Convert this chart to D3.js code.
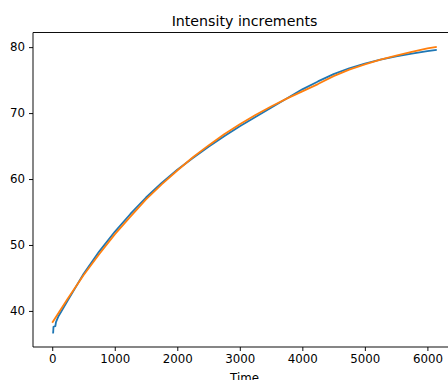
<!DOCTYPE html>
<html>
<head>
<meta charset="utf-8">
<script src="https://cdn.jsdelivr.net/npm/d3@7"></script>
<style>
  body { margin: 0; background: #fff; }
  svg { display: block; font-family: "DejaVu Sans", sans-serif; }
</style>
</head>
<body>
<div id="chart"></div>
<script>
// values
const measuredTime = [0, 15, 20, 50, 60, 100, 250, 500, 750, 1000, 1250, 1500, 1750, 2000, 2250, 2500,
  2750, 3000, 3250, 3500, 3750, 4000, 4250, 4500, 4750, 5000, 5250, 5500, 5750, 6000, 6150];
const measuredIntensity = [36.7, 36.7, 37.6, 37.7, 38.3, 39.2, 41.6, 45.6, 49.0, 52.0, 54.7, 57.2, 59.4, 61.4, 63.2, 64.9,
  66.5, 68.0, 69.4, 70.8, 72.2, 73.6, 74.8, 75.9, 76.8, 77.5, 78.1, 78.6, 79.0, 79.4, 79.6];

const fitTime = [0, 250, 500, 750, 1000, 1250, 1500, 1750, 2000, 2250, 2500, 2750, 3000, 3250,
  3500, 3750, 4000, 4250, 4500, 4750, 5000, 5250, 5500, 5750, 6000, 6150];
const fitIntensity = [38.2, 41.9, 45.4, 48.6, 51.6, 54.3, 56.9, 59.2, 61.3, 63.3, 65.1, 66.8, 68.3, 69.7,
  71.0, 72.2, 73.3, 74.4, 75.6, 76.6, 77.4, 78.1, 78.7, 79.3, 79.8, 80.05];

const xTicks = [0, 1000, 2000, 3000, 4000, 5000, 6000];
const yTicks = [40, 50, 60, 70, 80];

const width = 448;
const height = 380;
const plotLeft = 33, plotRight = 456, plotTop = 32.5, plotBottom = 347;

const svg = d3.select('#chart')
  .append('svg')
  .attr('width', width)
  .attr('height', height);

const x = d3.scaleLinear().domain([-307.5, 6457.5]).range([plotLeft, plotRight]);
const y = d3.scaleLinear().domain([34.53, 82.22]).range([plotBottom, plotTop]);

const line = (xs, ys) => d3.line()
  .x((d, i) => x(xs[i]))
  .y((d, i) => y(ys[i]))(ys);

svg.append('path')
  .attr('d', line(measuredTime, measuredIntensity))
  .attr('fill', 'none')
  .attr('stroke', '#1f77b4')
  .attr('stroke-width', 1.8)
  .attr('stroke-linejoin', 'round');

svg.append('path')
  .attr('d', line(fitTime, fitIntensity))
  .attr('fill', 'none')
  .attr('stroke', '#ff7f0e')
  .attr('stroke-width', 1.8)
  .attr('stroke-linejoin', 'round');

// spines
svg.append('line').attr('x1', plotLeft).attr('x2', plotLeft).attr('y1', plotTop).attr('y2', plotBottom)
  .attr('stroke', '#000').attr('stroke-width', 0.95);
svg.append('line').attr('x1', plotLeft).attr('x2', plotRight).attr('y1', plotBottom).attr('y2', plotBottom)
  .attr('stroke', '#000').attr('stroke-width', 0.95);
svg.append('line').attr('x1', plotLeft).attr('x2', plotRight).attr('y1', plotTop).attr('y2', plotTop)
  .attr('stroke', '#000').attr('stroke-width', 0.95);

const xAxis = svg.append('g')
  .attr('transform', `translate(0,${plotBottom})`)
  .call(d3.axisBottom(x).tickValues(xTicks).tickSize(4).tickPadding(4).tickFormat(d3.format('d')));
const yAxis = svg.append('g')
  .attr('transform', `translate(${plotLeft},0)`)
  .call(d3.axisLeft(y).tickValues(yTicks).tickSize(4).tickPadding(4).tickFormat(d3.format('d')));

[xAxis, yAxis].forEach(g => {
  g.select('.domain').remove();
  g.selectAll('line').attr('stroke', '#000').attr('stroke-width', 0.95);
  g.selectAll('text').attr('fill', '#000')
    .style('font-family', '"DejaVu Sans", sans-serif').style('font-size', '11.8px');
});

svg.append('text')
  .attr('x', (plotLeft + plotRight) / 2)
  .attr('y', 26)
  .attr('text-anchor', 'middle')
  .style('font-size', '14.2px')
  .text('Intensity increments');

// axis label, cut by the bottom edge as in the reference
svg.append('text')
  .attr('x', (plotLeft + plotRight) / 2)
  .attr('y', 382)
  .attr('text-anchor', 'middle')
  .style('font-size', '11.8px')
  .text('Time');
</script>
</body>
</html>
